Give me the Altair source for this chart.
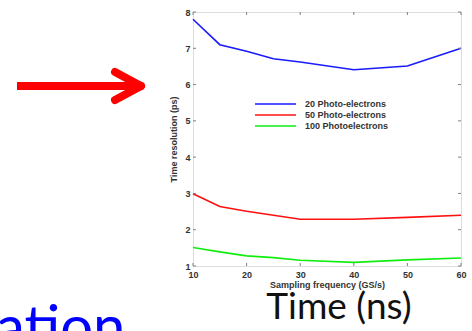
import altair as alt
import pandas as pd

# Time resolution vs. sampling frequency for three photo-electron counts
freq = [10, 15, 20, 25, 30, 40, 50, 60]
pe20 = [7.80, 7.10, 6.92, 6.71, 6.62, 6.41, 6.51, 7.00]
pe50 = [2.99, 2.64, 2.51, 2.40, 2.29, 2.29, 2.34, 2.40]
pe100 = [1.51, 1.39, 1.28, 1.23, 1.16, 1.10, 1.17, 1.22]
series = ["20 Photo-electrons", "50 Photo-electrons", "100 Photoelectrons"]
colors = ["#1a1aff", "#ff1010", "#10ee10"]

x_ticks = [10, 20, 30, 40, 50, 60]
y_ticks = [1, 2, 3, 4, 5, 6, 7, 8]

W, H = 268, 254
FONT = "Liberation Sans"
SLIDE_FONT = "Lato"
TXT = "#333333"
FRAME = "#808080"

rows = []
for name, vals in zip(series, [pe20, pe50, pe100]):
    for f, v in zip(freq, vals):
        rows.append({"freq": f, "res": v, "series": name})
df = pd.DataFrame(rows)

x_scale = alt.Scale(domain=[10, 60], nice=False, zero=False)
y_scale = alt.Scale(domain=[1, 8], nice=False, zero=False)

axis_style = dict(
    domain=False, ticks=False, grid=False, labelOverlap=False,
    labelFlush=False, labelBound=False,
    labelFontSize=9, labelFontWeight="bold", labelColor=TXT,
    labelFont=FONT, titleFont=FONT, titleFontSize=9,
    titleFontWeight="bold", titleColor=TXT,
)
x_axis = alt.Axis(
    values=x_ticks, title="Sampling frequency (GS/s)",
    labelPadding=4, titlePadding=1, **axis_style,
)
y_axis = alt.Axis(
    values=y_ticks, title="Time resolution (ps)",
    labelPadding=3, titlePadding=6, **axis_style,
)

lines = alt.Chart(df).mark_line(strokeWidth=1.6).encode(
    x=alt.X("freq:Q", scale=x_scale, axis=x_axis),
    y=alt.Y("res:Q", scale=y_scale, axis=y_axis),
    color=alt.Color(
        "series:N",
        scale=alt.Scale(domain=series, range=colors),
        sort=series,
        legend=alt.Legend(
            title=None, orient="none", legendX=78, legendY=87.5,
            symbolType="M-10,0H10", symbolSize=16.8, symbolStrokeWidth=1.6,
            symbolOffset=0, labelOffset=25, rowPadding=1, padding=0,
            labelFont=FONT, labelFontSize=9, labelFontWeight="bold",
            labelColor=TXT,
        ),
    ),
    detail="series:N",
)

# inward tick marks on all four sides of the frame
xt = pd.DataFrame({"freq": x_ticks})
yt = pd.DataFrame({"res": y_ticks})
tick_style = dict(color=FRAME, strokeWidth=1)
ticks_bottom = alt.Chart(xt).mark_rule(**tick_style).encode(
    x=alt.X("freq:Q", scale=x_scale, axis=x_axis),
    y=alt.value(H), y2=alt.value(H - 3))
ticks_top = alt.Chart(xt).mark_rule(**tick_style).encode(
    x=alt.X("freq:Q", scale=x_scale, axis=x_axis),
    y=alt.value(0), y2=alt.value(3))
ticks_left = alt.Chart(yt).mark_rule(**tick_style).encode(
    y=alt.Y("res:Q", scale=y_scale, axis=y_axis),
    x=alt.value(0), x2=alt.value(3))
ticks_right = alt.Chart(yt).mark_rule(**tick_style).encode(
    y=alt.Y("res:Q", scale=y_scale, axis=y_axis),
    x=alt.value(W), x2=alt.value(W - 3))

one = alt.Data(values=[{}])


def stroke(x1, y1, x2, y2, cap):
    return alt.Chart(one).mark_rule(
        color="#ff0000", strokeWidth=8, strokeCap=cap
    ).encode(x=alt.value(x1), y=alt.value(y1), x2=alt.value(x2), y2=alt.value(y2))


# red pointer arrow to the left of the plot
arrow = [
    stroke(-176, 74, -54, 74, "butt"),
    stroke(-78, 60, -52, 74, "round"),
    stroke(-78, 88, -52, 74, "round"),
]

time_label = alt.Chart(one).mark_text(
    text="Time (ns)", font=SLIDE_FONT, fontSize=37, color="#111111",
    align="center", baseline="alphabetic",
).encode(x=alt.value(146), y=alt.value(307))

word_tail = alt.Chart(one).mark_text(
    text="ation", font=SLIDE_FONT, fontSize=58, color="#0000ff",
    align="left", baseline="alphabetic",
).encode(x=alt.value(-197), y=alt.value(335))

chart = alt.layer(
    lines, ticks_bottom, ticks_top, ticks_left, ticks_right,
    *arrow, time_label, word_tail,
).properties(
    width=W, height=H,
    autosize=alt.AutoSizeParams(type="none"),
    padding={"left": 193, "top": 12, "right": 11, "bottom": 65},
).configure_view(
    stroke=FRAME, strokeWidth=1,
).configure(background="white")

chart.save("out.html", embed_options={"renderer": "svg", "actions": False})
